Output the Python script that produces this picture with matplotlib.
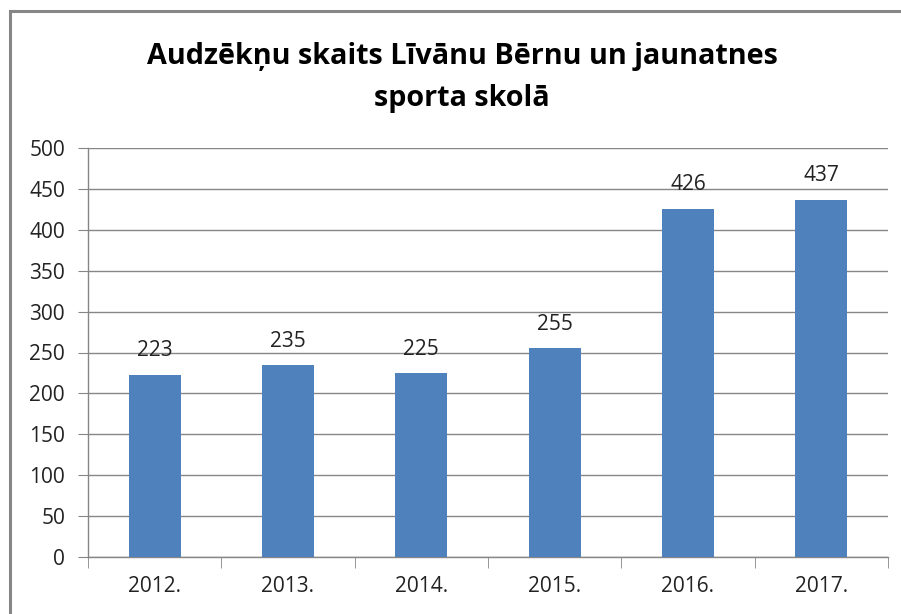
import matplotlib
matplotlib.use("Agg")
import matplotlib.pyplot as plt
from matplotlib.patches import Rectangle

categories = ["2012.", "2013.", "2014.", "2015.", "2016.", "2017."]
values = [223, 235, 225, 255, 426, 437]
yticks = [0, 50, 100, 150, 200, 250, 300, 350, 400, 450, 500]
title = "Audzēkņu skaits Līvānu Bērnu un jaunatnes\nsporta skolā"

plt.rcParams['font.family'] = ['Open Sans', 'DejaVu Sans']

W, H = 901, 614
fig = plt.figure(figsize=(W / 100, H / 100), dpi=100)
fig.patch.set_facecolor('white')

# chart border
fig.patches.append(Rectangle((10 / W, -0.1), 1.2, (H - 11) / H + 0.1, transform=fig.transFigure,
                             fill=False, edgecolor='#868686', linewidth=2.2))

ax = fig.add_axes([88 / W, (H - 557) / H, 800 / W, 409 / H])
x = list(range(len(categories)))
bars = ax.bar(x, values, width=0.39, color='#4F81BD', zorder=3)
ax.set_xlim(-0.5, len(categories) - 0.5)
ax.set_ylim(0, 500)
ax.set_yticks(yticks)
ax.set_xticks(x)
ax.set_xticklabels(categories, fontsize=15, color='#222222')
ax.tick_params(axis='y', labelsize=15, colors='#222222', length=7, color='#868686', pad=9.5)
ax.tick_params(axis='x', length=0, pad=14)
# category boundary ticks
ax.set_xticks([i - 0.5 for i in range(len(categories) + 1)], minor=True)
ax.tick_params(axis='x', which='minor', length=8, color='#868686', direction='out')
ax.grid(axis='y', color='#868686', linewidth=1.0, zorder=0)
for s in ['top', 'right']:
    ax.spines[s].set_visible(False)
for s in ['left', 'bottom']:
    ax.spines[s].set_color('#868686')
    ax.spines[s].set_linewidth(1.0)

for xi, v in zip(x, values):
    ax.annotate(str(v), (xi, v), xytext=(0, 9.5), textcoords='offset points',
                ha='center', va='bottom', fontsize=15, color='#222222')

fig.text(462 / W, 1 - 77.5 / H, title, ha='center', va='center', fontsize=20.7,
         fontweight='bold', color='black', linespacing=1.55)

fig.savefig('out.png', dpi=100)
